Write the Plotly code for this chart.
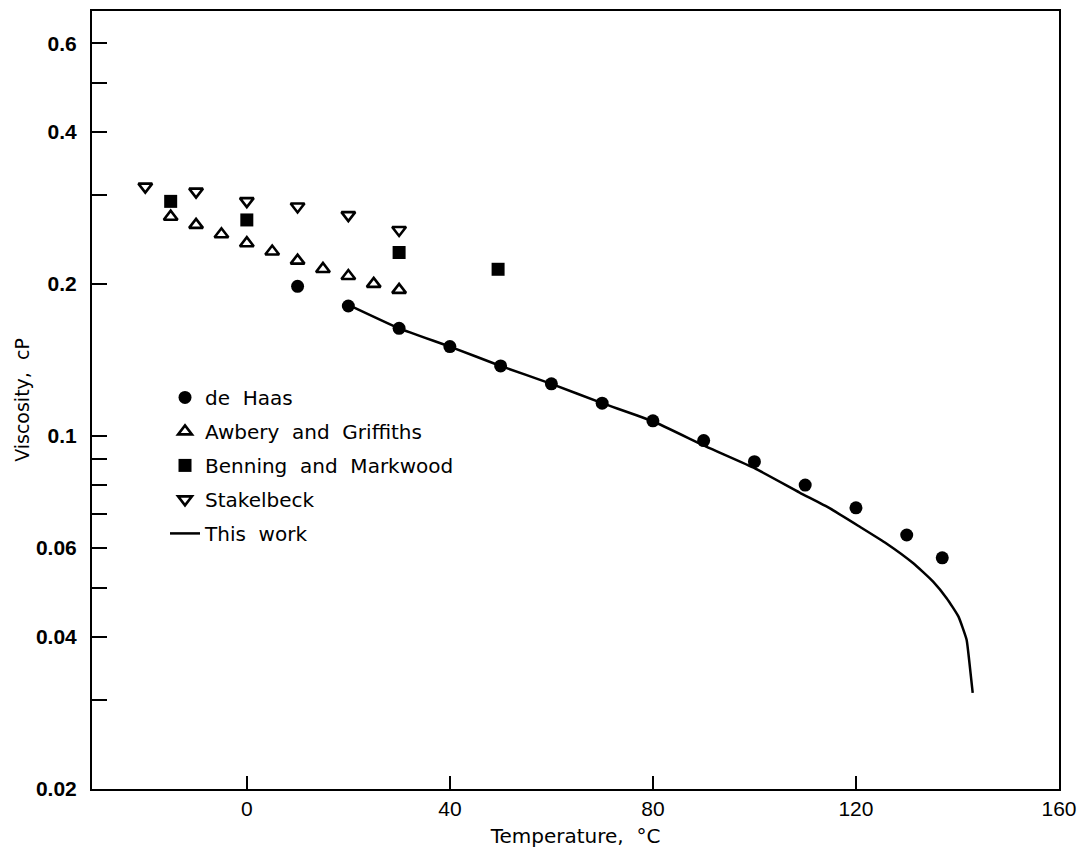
import plotly.graph_objects as go
import math

# de Haas
dehaas_T = [10, 20, 30, 40, 50, 60, 70, 80, 90, 100, 110, 120, 130, 137]
dehaas_v = [0.198, 0.181, 0.1635, 0.1504, 0.1377, 0.1269, 0.1162, 0.1072,
            0.098, 0.089, 0.080, 0.0721, 0.0637, 0.0574]

# Awbery and Griffiths
awbery_T = [-15, -10, -5, 0, 5, 10, 15, 20, 25, 30]
awbery_v = [0.272, 0.262, 0.251, 0.241, 0.232, 0.2226, 0.2143, 0.2075, 0.2002, 0.1948]

# Benning and Markwood
benning_T = [-15, 0, 30, 49.5]
benning_v = [0.2917, 0.268, 0.231, 0.214]

# Stakelbeck
stakel_T = [-20, -10, 0, 10, 20, 30]
stakel_v = [0.312, 0.305, 0.292, 0.285, 0.274, 0.256]

# This work (curve)
work_T = [20, 30, 40, 50, 60, 70, 80, 90.5, 100.1, 108.9, 114.8, 120.7, 126.0,
          131.3, 135.2, 137.9, 140.2, 141.8, 142.3, 143.0]
work_v = [0.182, 0.1635, 0.1504, 0.1377, 0.1269, 0.1162, 0.1070, 0.0953, 0.0863,
          0.0773, 0.0720, 0.0662, 0.0613, 0.0560, 0.0515, 0.0477, 0.0439, 0.0395,
          0.0360, 0.0310]

x_ticks = [0, 40, 80, 120, 160]
y_tickvals = [0.02, 0.03, 0.04, 0.05, 0.06, 0.07, 0.08, 0.09, 0.1, 0.2, 0.3, 0.4, 0.5, 0.6]
y_ticktext = ["0.02", "", "0.04", "", "0.06", "", "", "", "0.1", "0.2", "", "0.4", "", "0.6"]

FONT = "Liberation Sans, Arial, Helvetica, sans-serif"
WIDE = "DejaVu Sans, Verdana, sans-serif"

fig = go.Figure()
fig.add_trace(go.Scatter(
    x=dehaas_T, y=dehaas_v, mode="markers", name="de  Haas", legendgroup="a",
    marker=dict(symbol="circle", size=13, color="black")))
fig.add_trace(go.Scatter(
    x=awbery_T, y=awbery_v, mode="markers", name="Awbery  and  Griffiths", legendgroup="b",
    marker=dict(symbol="triangle-up-open", size=12, color="black", line=dict(width=2.6, color="black"))))
fig.add_trace(go.Scatter(
    x=benning_T, y=benning_v, mode="markers", name="Benning  and  Markwood", legendgroup="c",
    marker=dict(symbol="square", size=13, color="black")))
fig.add_trace(go.Scatter(
    x=stakel_T, y=stakel_v, mode="markers", name="Stakelbeck", legendgroup="d",
    marker=dict(symbol="triangle-down-open", size=12, color="black", line=dict(width=2.6, color="black"))))
fig.add_trace(go.Scatter(
    x=work_T, y=work_v, mode="lines", name="This  work", legendgroup="e",
    line=dict(color="black", width=2.5, shape="spline", smoothing=0.4)))

fig.update_layout(
    width=1079, height=857,
    margin=dict(l=92, r=20, t=11, b=68),
    paper_bgcolor="white", plot_bgcolor="white",
    font=dict(family=FONT, color="black", size=20),
    showlegend=True,
    legend=dict(x=0.0755, y=0.5284, xanchor="left", yanchor="top",
                bgcolor="rgba(0,0,0,0)", borderwidth=0,
                font=dict(size=20, family=WIDE), tracegroupgap=5,
                traceorder="grouped"),
)
fig.update_xaxes(
    range=[-30.5, 160], tickvals=x_ticks, ticktext=[str(v) for v in x_ticks],
    ticks="inside", ticklen=13, tickwidth=2, tickcolor="black",
    showline=True, linewidth=2, linecolor="black", mirror=True,
    showgrid=False, zeroline=False, automargin=False,
    tickfont=dict(size=21, family=FONT),
    title=dict(text="Temperature,  °C", font=dict(size=20, family=WIDE), standoff=10),
)
fig.update_yaxes(
    type="log", range=[math.log10(0.02), math.log10(0.695)],
    tickvals=y_tickvals, ticktext=y_ticktext,
    ticks="inside", ticklen=15, tickwidth=2, tickcolor="black",
    showline=True, linewidth=2, linecolor="black", mirror=True,
    showgrid=False, zeroline=False, automargin=False,
    ticklabelstandoff=9,
    tickfont=dict(size=21, family=FONT, weight="bold"),
    title=dict(text="Viscosity,  cP", font=dict(size=19, family=WIDE), standoff=1),
)

fig.write_html("out.html",
               config={"displayModeBar": False},
               post_script="document.body.style.margin='0px';document.body.style.overflow='hidden';")
